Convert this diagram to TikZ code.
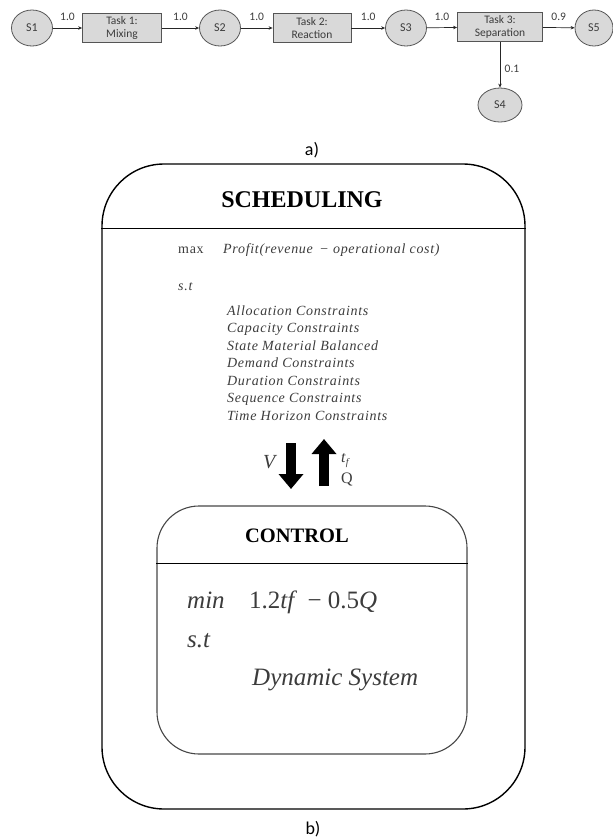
\documentclass[tikz,border=0pt]{standalone}
\usepackage{fontspec}
\setmainfont{Liberation Serif}
\newfontfamily\lblfont{Carlito}
\newfontfamily\widefont[LetterSpace=5]{Liberation Serif}
\usetikzlibrary{arrows.meta,shapes.geometric}
\definecolor{stfill}{RGB}{217,217,217}
\definecolor{stline}{RGB}{85,85,85}
\definecolor{txtgray}{RGB}{60,60,60}
\definecolor{ctrlline}{RGB}{70,70,70}
\tikzset{stnode/.style={ellipse,draw=stline,fill=stfill,line width=0.8pt,minimum width=41pt,minimum height=36pt,inner sep=0pt,font=\lblfont\fontsize{12}{14}\selectfont,text=txtgray},
         tasknode/.style={rectangle,draw=stline,fill=stfill,line width=0.8pt,minimum height=29pt,inner sep=1pt,align=center,font=\lblfont\fontsize{11.5}{12.5}\selectfont,text=txtgray},
         flow/.style={draw=black!85,line width=0.7pt,-{Stealth[length=4pt,width=3.5pt]}},
         flowlabel/.style={font=\lblfont\fontsize{11.5}{13}\selectfont,text=txtgray},
         bigbox/.style={rectangle,draw=black,line width=1.4pt,rounded corners=62pt},
         smallbox/.style={rectangle,draw=ctrlline,line width=1.1pt,rounded corners=42pt},
         blockarrow/.style={line width=10pt,-{Triangle[width=24pt,length=15pt]}},
         bodytext/.style={anchor=base west,text=txtgray,inner sep=0pt}}

\begin{document}
\begin{tikzpicture}[x=1pt,y=-1pt]
  \useasboundingbox (0,0) rectangle (613,839);
  \begin{scope}
    \node[stnode] (s1) at (32,28) {S1};
    \node[tasknode,minimum width=79pt] (t1) at (122,28) {Task 1:\\Mixing};
    \node[stnode] (s2) at (220,28) {S2};
    \node[tasknode,minimum width=78pt] (t2) at (312,28) {Task 2:\\Reaction};
    \node[stnode] (s3) at (406,28) {S3};
    \node[tasknode,minimum width=85pt] (t3) at (500,27) {Task 3:\\Separation};
    \node[stnode,minimum width=38pt] (s5) at (594,28) {S5};
    \node[stnode,minimum width=44pt,minimum height=34pt] (s4) at (500,105) {S4};
    \draw[flow] (s1) -- node[flowlabel,midway,yshift=11pt] {1.0} (t1);
    \draw[flow] (t1) -- node[flowlabel,midway,yshift=11pt] {1.0} (s2);
    \draw[flow] (s2) -- node[flowlabel,midway,yshift=11pt] {1.0} (t2);
    \draw[flow] (t2) -- node[flowlabel,midway,yshift=11pt] {1.0} (s3);
    \draw[flow] (s3) -- node[flowlabel,midway,yshift=11pt] {1.0} (t3);
    \draw[flow] (t3) -- node[flowlabel,midway,yshift=11pt] {0.9} (s5);
    \draw[flow] (t3) -- node[flowlabel,midway,right=1pt,yshift=-4pt] {0.1} (s4);
    \node[font=\lblfont\fontsize{18}{20}\selectfont] (lbla) at (312,150) {a)};
  \end{scope}
  \begin{scope}
    \node[bigbox,minimum width=423pt,minimum height=645pt] (sched) at (313.5,486.5) {};
    \draw[line width=1pt] (sched.west |- 0,228) -- (sched.east |- 0,228);
    \node[font=\bfseries\fontsize{24}{28}\selectfont] (schedtitle) at (302,200) {SCHEDULING};
    \node[bodytext,font=\widefont\fontsize{14}{17}\selectfont] (maxw) at (178,253) {max};
    \node[bodytext,font=\widefont\itshape\fontsize{14}{17}\selectfont] (obj) at (223,253) {Profit(revenue \,− operational cost)};
    \node[bodytext,font=\widefont\itshape\fontsize{14}{17}\selectfont] (st) at (178,290) {s.t};
    \foreach \txt [count=\i from 0] in {Allocation Constraints,Capacity Constraints,State Material Balanced,Demand Constraints,Duration Constraints,Sequence Constraints,Time Horizon Constraints}
      \node[bodytext,font=\widefont\itshape\fontsize{14}{17}\selectfont] (con\i) at (227,315+17.5*\i) {\txt};
    \coordinate (dntop) at (291,443);
    \coordinate (dnbot) at (291,489);
    \coordinate (upbot) at (324,486);
    \coordinate (uptop) at (324,439);
    \draw[blockarrow] (dntop) -- (dnbot);
    \draw[blockarrow] (upbot) -- (uptop);
    \node[bodytext,font=\itshape\fontsize{20}{24}\selectfont] (vlbl) at (263,468) {V};
    \node[bodytext,font=\fontsize{16}{18}\selectfont] (tflbl) at (341,462) {\textit{t}\raisebox{-3pt}{\fontsize{10}{12}\selectfont\textit{f}}};
    \node[bodytext,font=\fontsize{16}{18}\selectfont] (qlbl) at (341,483) {Q};
    \node[smallbox,minimum width=310pt,minimum height=248pt] (ctrl) at (312,630) {};
    \draw[line width=1pt] (ctrl.west |- 0,563) -- (ctrl.east |- 0,563);
    \node[font=\bfseries\fontsize{20.5}{24}\selectfont] (ctrltitle) at (297,536) {CONTROL};
    \node[bodytext,font=\itshape\fontsize{25}{30}\selectfont] (minw) at (187,608) {min};
    \node[bodytext,font=\fontsize{25}{30}\selectfont] (cobj) at (249,608) {1.2\textit{tf} \,− 0.5\textit{Q}};
    \node[bodytext,font=\itshape\fontsize{25}{30}\selectfont] (cst) at (187,647) {s.t};
    \node[bodytext,font=\itshape\fontsize{25}{30}\selectfont] (dyn) at (252,685) {Dynamic System};
    \node[font=\lblfont\fontsize{18}{20}\selectfont] (lblb) at (313,829) {b)};
  \end{scope}
\end{tikzpicture}
\end{document}
